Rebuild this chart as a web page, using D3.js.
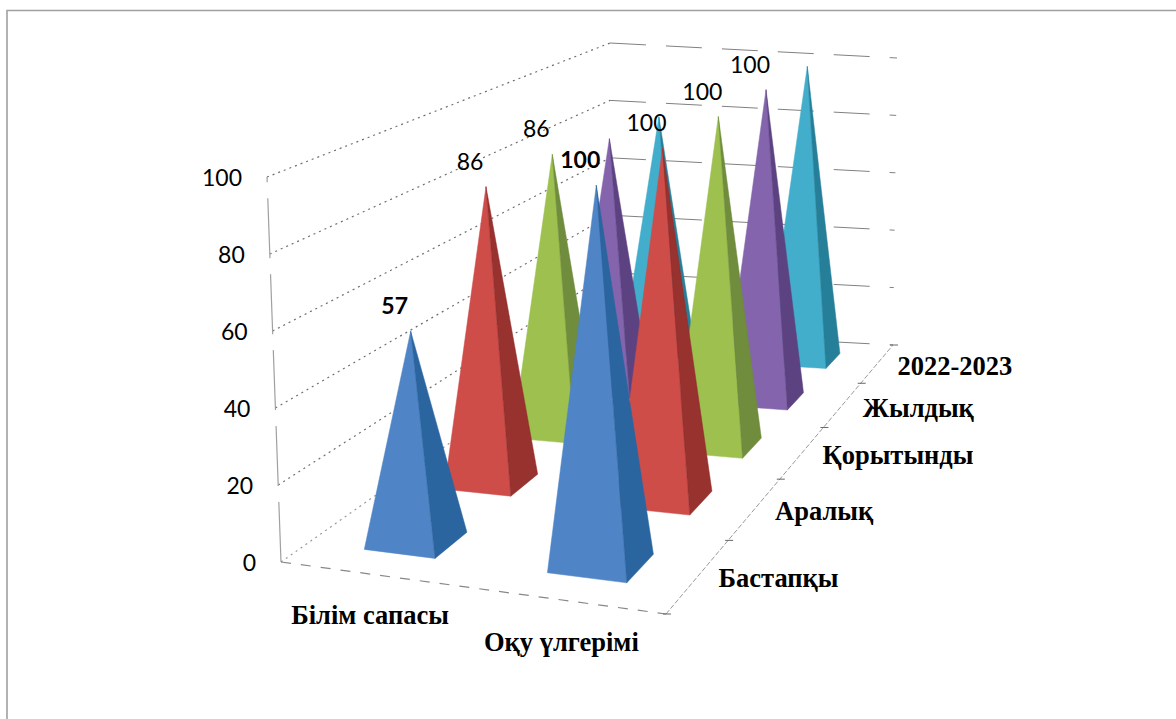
<!DOCTYPE html>
<html>
<head>
<meta charset="utf-8">
<script src="https://cdn.jsdelivr.net/npm/d3@7"></script>
<style>
  html, body { margin: 0; padding: 0; background: #fff; }
  svg { display: block; }
</style>
</head>
<body>
<svg id="chart"></svg>
<script>
const categories = ['Білім сапасы', 'Оқу үлгерімі'];
const seriesNames = ['Бастапқы', 'Аралық', 'Қорытынды', 'Жылдық', '2022-2023'];
const bilimValues = [57, 86, 86, 82, 81];
const okuValues = [100, 100, 100, 100, 100];
const bilimLabels = ['57', '86', '86', null, null];
const okuLabels = ['100', '100', '100', '100', null];
const valueTicks = [0, 20, 40, 60, 80, 100];

const width = 1176;
const height = 719;

// corners of the floor and of the top plane, as they sit in the picture
const floorQuad = [[281, 562], [666, 614], [893, 345], [610, 330]];
const wallTopQuad = [[267, 177], [654, 219], [897, 58], [610, 43]];
// the pyramids lean a little differently from the walls
const peakTopQuad = [[267, 186], [662, 214], [900, 58], [610, 50]];

const faceColors = [
  { front: '#4f85c6', side: '#2b659f' },
  { front: '#cf4d4a', side: '#97302e' },
  { front: '#9dc04f', side: '#6f8c3c' },
  { front: '#8465ad', side: '#5c4380' },
  { front: '#42aecb', side: '#267f99' }
];

// unit square -> quad
function homography(q) {
  const [[x0, y0], [x1, y1], [x2, y2], [x3, y3]] = q;
  const dx1 = x1 - x2, dx2 = x3 - x2, sx = x0 - x1 + x2 - x3;
  const dy1 = y1 - y2, dy2 = y3 - y2, sy = y0 - y1 + y2 - y3;
  const den = dx1 * dy2 - dx2 * dy1;
  const g = (sx * dy2 - dx2 * sy) / den;
  const h = (dx1 * sy - sx * dy1) / den;
  const a = x1 - x0 + g * x1, b = x3 - x0 + h * x3;
  const d = y1 - y0 + g * y1, e = y3 - y0 + h * y3;
  return (u, v) => {
    const w = g * u + h * v + 1;
    return [(a * u + b * v + x0) / w, (d * u + e * v + y0) / w];
  };
}

const floorAt = homography(floorQuad);
const wallTopAt = homography(wallTopQuad);
const peakTopAt = homography(peakTopQuad);

const uScale = d3.scaleBand().domain(categories).range([0.01, 1.01]).paddingInner(0.6).paddingOuter(0.306);
const vScale = d3.scaleBand().domain(seriesNames).range([0, 1]).paddingInner(0.6).paddingOuter(0.3);
const vEdge = d3.scalePoint().domain(d3.range(seriesNames.length + 1)).range([0, 1]);
const hScale = d3.scaleLinear().domain([0, 100]).range([0, 1]);

function project(u, v, value, topAt = wallTopAt) {
  const t = hScale(value);
  const a = floorAt(u, v), b = topAt(u, v);
  return [a[0] + (b[0] - a[0]) * t, a[1] + (b[1] - a[1]) * t];
}

const svg = d3.select('#chart').attr('width', width).attr('height', height);
const line = d3.line();

// the picture is a soft scan, so take the edge off a bit
svg.append('defs').append('filter')
  .attr('id', 'soft')
  .append('feGaussianBlur')
  .attr('stdDeviation', 0.5);

// outer frame, only top and left show
svg.append('path')
  .attr('d', 'M1176,10.5H7V719')
  .attr('fill', 'none')
  .attr('stroke', '#a0a0a0')
  .attr('stroke-width', 1.6);

// walls
const grid = svg.append('g').attr('fill', 'none').attr('filter', 'url(#soft)');
valueTicks.forEach(t => {
  if (t > 0) {
    grid.append('path')
      .attr('d', line([project(0, 0, t), project(0, 1, t)]))
      .attr('stroke', '#707070')
      .attr('stroke-width', 1.2)
      .attr('stroke-dasharray', '2,4');
  }
  grid.append('path')
    .attr('d', line([project(0, 1, t), project(1, 1, t)]))
    .attr('stroke', '#808080')
    .attr('stroke-dasharray', '36,20');
});
grid.append('path')
  .attr('d', line([project(0, 0, 0), project(0, 0, 100)]))
  .attr('stroke', '#a0a0a0')
  .attr('stroke-width', 1.2)
  .attr('stroke-dasharray', '60,16');
grid.append('path')
  .attr('d', line([project(0, 0, 0), project(0, 1, 0)]))
  .attr('stroke', '#999')
  .attr('stroke-width', 1.2)
  .attr('stroke-dasharray', '2,4');
grid.append('path')
  .attr('d', line([project(0, 0, 0), project(1, 0, 0)]))
  .attr('stroke', '#888')
  .attr('stroke-width', 1.2)
  .attr('stroke-dasharray', '10,10');
grid.append('path')
  .attr('d', line([project(1, 0, 0), project(1, 1, 0)]))
  .attr('stroke', '#999')
  .attr('stroke-dasharray', '5,2');
vEdge.domain().forEach(k => {
  const p = project(1, vEdge(k), 0);
  grid.append('path')
    .attr('d', line([[p[0] - 3, p[1]], [p[0] + 5, p[1]]]))
    .attr('stroke', '#666');
});

// pyramids, back row first
const marks = svg.append('g').attr('filter', 'url(#soft)');
const rows = [bilimValues, okuValues];
const labelRows = [bilimLabels, okuLabels];
d3.range(seriesNames.length - 1, -1, -1).forEach(s => {
  categories.forEach((cat, c) => {
    const value = rows[c][s];
    const u0 = uScale(cat), u1 = u0 + uScale.bandwidth();
    const v0 = vScale(seriesNames[s]), v1 = v0 + vScale.bandwidth();
    const tip = project((u0 + u1) / 2, (v0 + v1) / 2, value, peakTopAt);
    const fl = project(u0, v0, 0), fr = project(u1, v0, 0), br = project(u1, v1, 0);
    marks.append('path')
      .attr('d', line([fl, fr, tip]) + 'Z')
      .attr('fill', faceColors[s].front)
      .attr('stroke', faceColors[s].front)
      .attr('stroke-width', 0.5);
    marks.append('path')
      .attr('d', line([fr, br, tip]) + 'Z')
      .attr('fill', faceColors[s].side)
      .attr('stroke', faceColors[s].side)
      .attr('stroke-width', 0.5);
  });
});

// data labels on top of everything
const dataText = svg.append('g')
  .attr('font-family', 'Lato, "Open Sans", sans-serif')
  .attr('font-size', 23)
  .attr('text-anchor', 'middle')
  .attr('fill', '#000');
categories.forEach((cat, c) => {
  labelRows[c].forEach((label, s) => {
    if (!label) return;
    const u = uScale(cat) + uScale.bandwidth() / 2;
    const v = vScale(seriesNames[s]) + vScale.bandwidth() / 2;
    const tip = project(u, v, rows[c][s], peakTopAt);
    dataText.append('text')
      .attr('x', tip[0] - 16)
      .attr('y', tip[1] - 17)
      .attr('font-weight', s === 0 ? 700 : 400)
      .text(label);
  });
});

// value axis labels
const axisText = svg.append('g')
  .attr('font-family', 'Lato, "Open Sans", sans-serif')
  .attr('font-size', 23)
  .attr('text-anchor', 'end')
  .attr('fill', '#000');
valueTicks.forEach(t => {
  const p = project(0, 0, t);
  axisText.append('text')
    .attr('x', p[0] - 25)
    .attr('y', p[1] + 9)
    .text(t);
});

// category and series names
const nameText = svg.append('g')
  .attr('font-family', '"Liberation Serif", serif')
  .attr('font-size', 26.5)
  .attr('font-weight', 700)
  .attr('fill', '#000');
categories.forEach((cat, c) => {
  const p = project(uScale(cat) + uScale.bandwidth() / 2, 0, 0);
  nameText.append('text')
    .attr('x', p[0] - 3)
    .attr('y', p[1] + 50 + c)
    .attr('text-anchor', 'middle')
    .text(cat);
});
seriesNames.forEach(name => {
  const p = project(1, vScale(name) + vScale.bandwidth() / 2, 0);
  nameText.append('text')
    .attr('x', p[0] + 20)
    .attr('y', p[1] + 12)
    .text(name);
});
</script>
</body>
</html>
